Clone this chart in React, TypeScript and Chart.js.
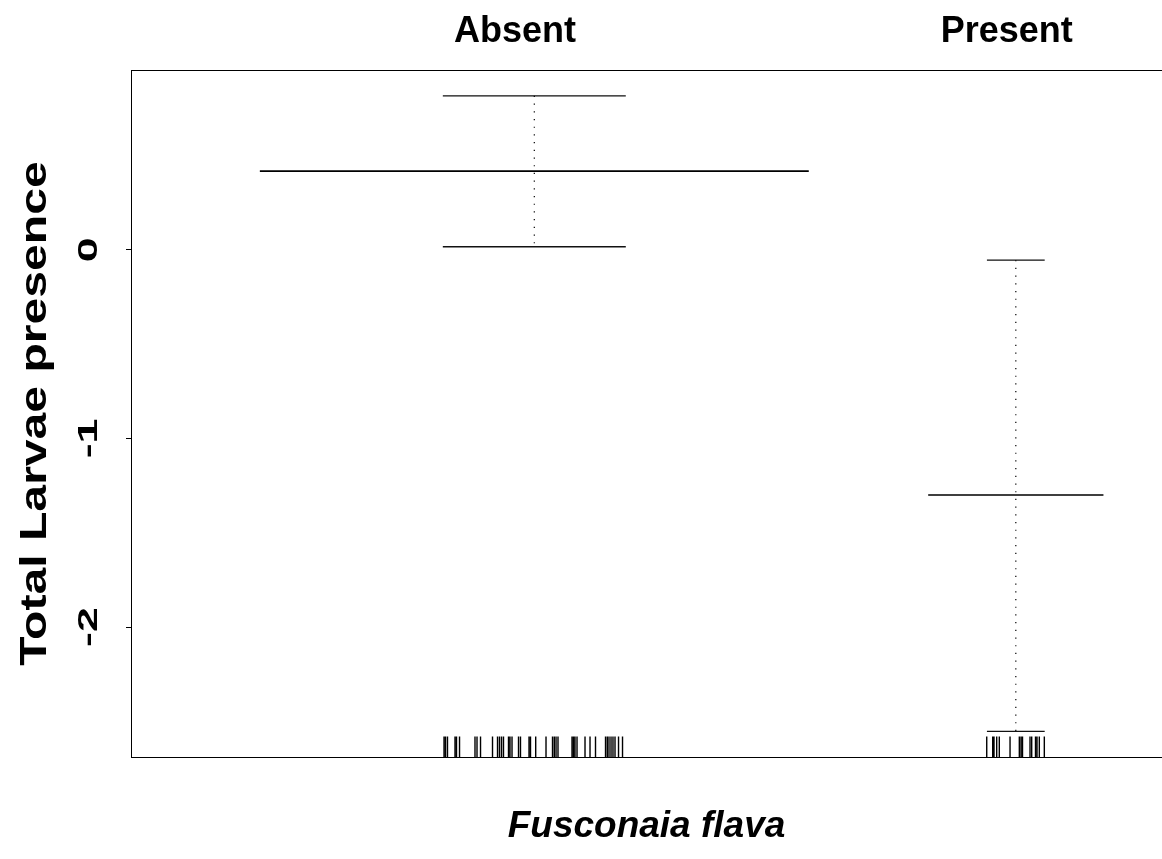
import React, { useEffect, useRef } from "react";
import { Chart, registerables } from "chart.js";

Chart.register(...registerables);

// Factor levels, their positions on the x scale and where their names sit on the top axis
const levels = ["Absent", "Present"];
const levelPos = [1, 2];
const levelLabelPos = [0.96, 1.981];

// Fitted term and its upper / lower bounds for each level
const fitValues = [0.417, -1.3];
const upperValues = [0.816, -0.055];
const lowerValues = [0.016, -2.553];

// Half-width of each level's fitted segment and of its bound caps (x units)
const fitHalfWidth = [0.57, 0.182];
const capHalfWidth = [0.19, 0.06];

// Jittered observation positions shown as a rug along the bottom
const rugAbsent = [
  0.8125, 0.8156, 0.8197, 0.8353, 0.8384, 0.8447, 0.8768, 0.881, 0.8883, 0.9132,
  0.9236, 0.9277, 0.9319, 0.936, 0.9464, 0.9495, 0.9537, 0.9672, 0.9713, 0.989,
  0.9921, 1.0029, 1.0243, 1.0378, 1.0415, 1.0451, 1.0492, 1.0783, 1.0814, 1.0845,
  1.0887, 1.1053, 1.1157, 1.1271, 1.1479, 1.1516, 1.1551, 1.1593, 1.1634, 1.1676,
  1.1749, 1.1832,
];
const rugPresent = [
  1.9396, 1.952, 1.9547, 1.9603, 1.9657, 1.988, 2.0073, 2.0108, 2.0139, 2.0295,
  2.033, 2.0409, 2.044, 2.0488, 2.0592,
];

// Axis ranges and tick values
const xRange = [0.1624, 2.3036];
const yRange = [-2.689, 0.953];
const yTicks = [-2, -1, 0];

const yTitle = "Total Larvae presence";
const xTitle = "Fusconaia flava";

const FONT = '"Liberation Sans", Arial, Helvetica, sans-serif';

type Pt = { x: number; y: number | null };

function segments(pairs: Array<[Pt, Pt]>): Pt[] {
  const out: Pt[] = [];
  pairs.forEach(([a, b], i) => {
    if (i > 0) out.push({ x: a.x, y: null });
    out.push(a, b);
  });
  return out;
}

const textPlugin = {
  id: "termText",
  afterDraw(chart: any) {
    const { ctx, scales, chartArea } = chart;
    const y = scales.y;
    ctx.save();
    ctx.fillStyle = "#000";

    // rotated y tick labels
    ctx.font = `bold 28px ${FONT}`;
    ctx.textAlign = "center";
    ctx.textBaseline = "middle";
    yTicks.forEach((v) => {
      const py = y.getPixelForValue(v);
      ctx.save();
      ctx.translate(chartArea.left - 42, py);
      ctx.rotate(-Math.PI / 2);
      ctx.scale(1.6, 1);
      ctx.fillText(String(v), 0, 0);
      ctx.restore();
    });

    // y title
    ctx.save();
    ctx.font = `bold 37px ${FONT}`;
    ctx.textAlign = "center";
    ctx.textBaseline = "alphabetic";
    ctx.translate(46, (chartArea.top + chartArea.bottom) / 2);
    ctx.rotate(-Math.PI / 2);
    ctx.scale(1.3, 1);
    ctx.fillText(yTitle, 0, 0);
    ctx.restore();

    // x title
    ctx.font = `italic bold 37px ${FONT}`;
    ctx.textAlign = "center";
    ctx.textBaseline = "middle";
    ctx.fillText(xTitle, (chartArea.left + chartArea.right) / 2, 827);

    ctx.restore();
  },
};

export default function App() {
  const ref = useRef<HTMLCanvasElement | null>(null);

  useEffect(() => {
    if (!ref.current) return;

    const fitData = segments(
      levelPos.map((p, i) => [
        { x: p - fitHalfWidth[i], y: fitValues[i] },
        { x: p + fitHalfWidth[i], y: fitValues[i] },
      ])
    );
    const capData = segments(
      levelPos.flatMap((p, i) => [
        [
          { x: p - capHalfWidth[i], y: upperValues[i] },
          { x: p + capHalfWidth[i], y: upperValues[i] },
        ] as [Pt, Pt],
        [
          { x: p - capHalfWidth[i], y: lowerValues[i] },
          { x: p + capHalfWidth[i], y: lowerValues[i] },
        ] as [Pt, Pt],
      ])
    );
    const barData = segments(
      levelPos.map((p, i) => [
        { x: p, y: upperValues[i] },
        { x: p, y: lowerValues[i] },
      ])
    );
    const rugLen = 0.03 * (yRange[1] - yRange[0]);
    const rugData = segments(
      [...rugAbsent, ...rugPresent].map((x) => [
        { x, y: yRange[0] },
        { x, y: yRange[0] + rugLen },
      ])
    );

    const line = (data: Pt[], color: string, width: number, dash: number[] = []) => ({
      type: "line" as const,
      data,
      borderColor: color,
      borderWidth: width,
      borderDash: dash,
      pointRadius: 0,
      fill: false,
      spanGaps: false,
      tension: 0,
      xAxisID: "x",
      yAxisID: "y",
    });

    const chart = new Chart(ref.current, {
      type: "line",
      data: {
        datasets: [
          line(barData, "#000", 1.2, [1.2, 6.5]),
          line(capData, "#111", 1.3),
          line(fitData, "#000", 1.6),
          line(rugData, "#000", 1.4),
        ] as any,
      },
      options: {
        animation: false,
        responsive: false,
        maintainAspectRatio: false,
        parsing: false as any,
        normalized: true,
        layout: { padding: 0 },
        plugins: {
          legend: { display: false },
          tooltip: { enabled: false },
          title: { display: false },
        },
        scales: {
          x: {
            type: "linear",
            position: "top",
            min: xRange[0],
            max: xRange[1],
            afterBuildTicks: (s: any) => {
              s.ticks = levelLabelPos.map((v) => ({ value: v }));
            },
            afterFit: (s: any) => {
              s.height = 70;
            },
            ticks: {
              autoSkip: false,
              maxRotation: 0,
              padding: 16,
              color: "#000",
              font: { family: FONT, size: 36, weight: "bold" },
              callback: (v: any) => levels[levelLabelPos.indexOf(Number(v))] ?? "",
            },
            grid: { display: true, drawOnChartArea: false, drawTicks: false },
            border: { display: true, color: "#000", width: 1 },
          },
          xb: {
            type: "linear",
            position: "bottom",
            min: xRange[0],
            max: xRange[1],
            afterFit: (s: any) => {
              s.height = 102;
            },
            ticks: { display: false },
            grid: { display: true, drawOnChartArea: false, drawTicks: false },
            border: { display: true, color: "#000", width: 1 },
          },
          y: {
            type: "linear",
            position: "left",
            min: yRange[0],
            max: yRange[1],
            afterBuildTicks: (s: any) => {
              s.ticks = yTicks.map((v) => ({ value: v }));
            },
            afterFit: (s: any) => {
              s.width = 131;
            },
            ticks: { display: false },
            grid: {
              display: true,
              drawOnChartArea: false,
              drawTicks: true,
              tickLength: 5,
              color: "#000",
            },
            border: { display: true, color: "#000", width: 1 },
          },
        } as any,
      },
      plugins: [textPlugin],
    });

    return () => chart.destroy();
  }, []);

  return (
    <div style={{ position: "fixed", left: 0, top: 0, width: 1162, height: 859, background: "#fff" }}>
      <canvas ref={ref} width={1162} height={859} style={{ width: 1162, height: 859, display: "block" }} />
    </div>
  );
}
